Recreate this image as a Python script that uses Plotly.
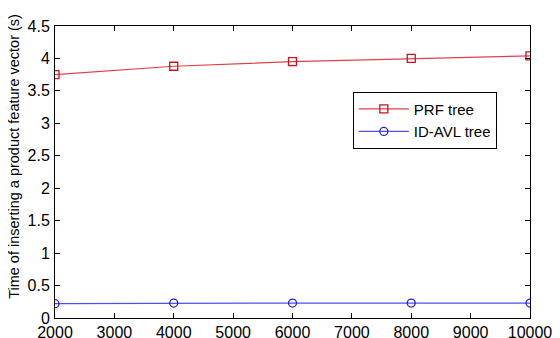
import plotly.graph_objects as go

x_vals = [2000, 4000, 6000, 8000, 10000]
prf_tree = [3.75, 3.88, 3.95, 4.0, 4.04]
idavl_tree = [0.22, 0.23, 0.23, 0.23, 0.23]
y_ticks = [0, 0.5, 1, 1.5, 2, 2.5, 3, 3.5, 4, 4.5]
y_ticktext = ["0", "0.5", "1", "1.5", "2", "2.5", "3", "3.5", "4", "4.5"]
x_ticks = [2000, 3000, 4000, 5000, 6000, 7000, 8000, 9000, 10000]
x_ticktext = ["2000", "3000", "4000", "5000", "6000", "7000", "8000", "9000", "10000"]
y_title = "Time of inserting a product feature vector (s)"

FONT = "Liberation Sans, Arial"

fig = go.Figure()
fig.add_trace(go.Scatter(x=x_vals, y=prf_tree, mode="lines+markers", name="PRF tree",
                         line=dict(color="#e0404a", width=1.2),
                         marker=dict(symbol="square-open", size=8, color="#d01020", line=dict(width=1.3))))
fig.add_trace(go.Scatter(x=x_vals, y=idavl_tree, mode="lines+markers", name="ID-AVL tree",
                         line=dict(color="#5050f0", width=1.2),
                         marker=dict(symbol="circle-open", size=8, color="#2020e0", line=dict(width=1.3))))

axis_common = dict(showline=True, linecolor="black", linewidth=1, mirror="ticks",
                   ticks="inside", ticklen=5, tickcolor="black", showgrid=False, zeroline=False,
                   automargin=False,
                   tickfont=dict(family=FONT, size=16, color="black"))

# the page body adds an 8px offset, so the figure is 552x330
fig.update_layout(
    width=552, height=330,
    margin=dict(l=47, r=30, t=18, b=20),
    paper_bgcolor="white", plot_bgcolor="white",
    xaxis=dict(range=[2000, 10000], tickvals=x_ticks, ticktext=x_ticktext, ticklabelstandoff=0, **axis_common),
    yaxis=dict(range=[0, 4.5], tickvals=y_ticks, ticktext=y_ticktext, ticklabelstandoff=1, **axis_common),
    legend=dict(x=0.627, y=0.775, xanchor="left", yanchor="top",
                bordercolor="black", borderwidth=1, bgcolor="white",
                font=dict(family=FONT, size=15, color="black"),
                itemwidth=50, tracegroupgap=0),
    showlegend=True,
)
fig.add_annotation(text=y_title, textangle=-90, xref="paper", yref="paper",
                   x=-0.0865, y=0.555, xanchor="center", yanchor="middle", showarrow=False,
                   font=dict(family=FONT, size=14.5, color="black"))

fig.write_html("out.html")
